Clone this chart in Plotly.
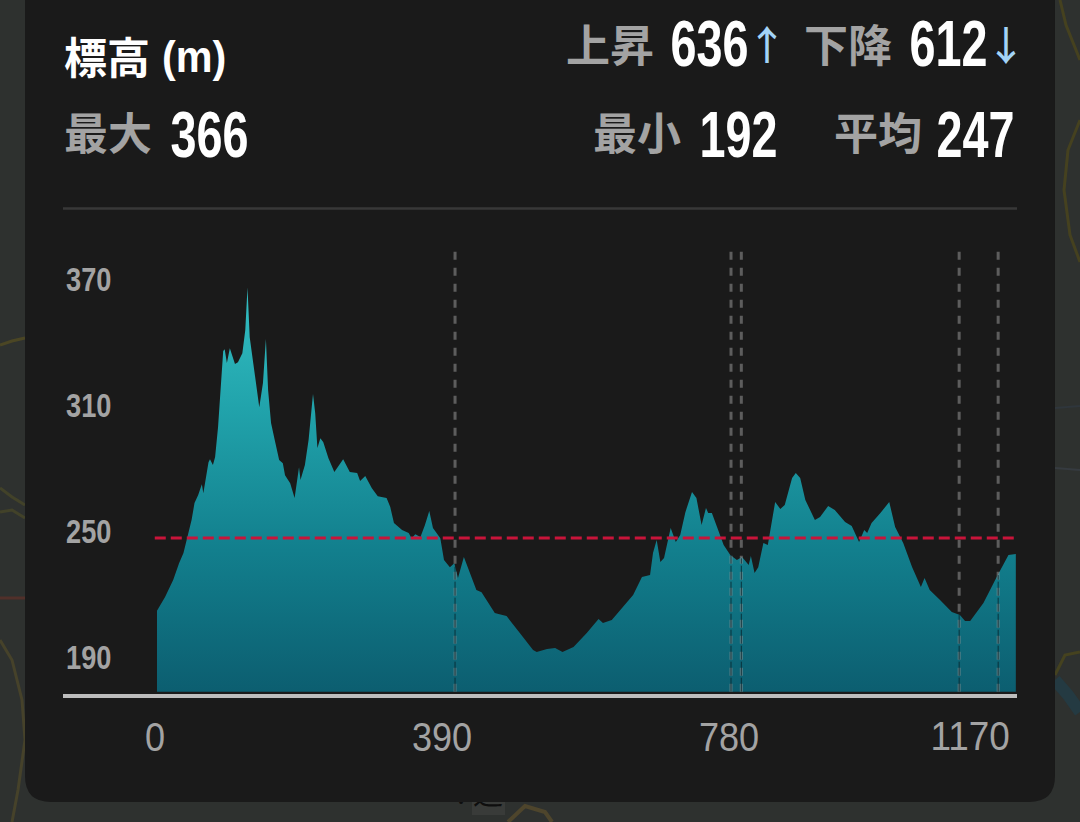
import plotly.graph_objects as go

# --- chart data -----------------------------------------------------------
dist = [0, 11, 22, 30, 36, 43, 47, 51, 56, 61, 63, 70, 72, 76, 79, 83, 87, 90, 92, 95, 99, 106, 110, 116, 120, 123,
        126, 133, 139, 144, 148, 151, 155, 160, 166, 171, 174, 181, 187, 193, 195, 201, 206, 212, 215, 218, 222, 226,
        233, 241, 253, 262, 272, 276, 283, 292, 300, 312, 317, 322, 333, 342, 346, 351, 358, 364, 370, 375, 385, 390,
        398, 404, 409, 417, 425, 434, 441, 459, 464, 475, 493, 511, 516, 530, 541, 551, 566, 584, 600, 606, 618, 636,
        647, 659, 670, 674, 679, 684, 689, 698, 705, 711, 718, 727, 733, 740, 746, 749, 754, 761, 770, 779, 788, 795,
        804, 807, 812, 817, 824, 830, 833, 840, 847, 853, 863, 868, 874, 881, 894, 901, 912, 921, 935, 944, 954, 961,
        965, 971, 983, 995, 1003, 1014, 1026, 1038, 1043, 1050, 1064, 1080, 1091, 1098, 1105, 1123, 1141, 1157, 1167]
elev = [212, 218.6, 226.7, 234.7, 239.5, 249, 255.2, 263.3, 267.1, 272.3, 268, 282.8, 284.2, 281.4, 285.2, 299.5,
        321.9, 335.7, 336.6, 330, 337.1, 329.5, 330.4, 334.7, 345.7, 366, 342.3, 323.3, 309, 320.5, 341.4, 317.1,
        301.4, 293.3, 283.8, 282.3, 276.6, 272.8, 265.7, 280.4, 274.3, 281.4, 293.3, 315.2, 306.1, 289.5, 294.2,
        292.3, 284.7, 278.1, 284.2, 278.1, 277.6, 273.8, 276.2, 270.4, 266.6, 265.7, 261.4, 253.8, 250.5, 249, 246.6,
        248.5, 247.1, 252.8, 259.5, 251.4, 246.6, 236.2, 232.8, 234.7, 227.6, 237.6, 230, 221.9, 220.9, 210.9, 210.5,
        209.5, 201.4, 193.3, 192.4, 193.8, 194.3, 192.4, 194.8, 201.4, 208.1, 206.2, 207.6, 215.2, 219.5, 228.1, 229,
        239.5, 245.7, 235.2, 237.1, 251.4, 244.8, 248.1, 259, 268.6, 265.7, 252.9, 261, 258.6, 258.6, 251.9, 243.3,
        238.6, 236.2, 237.6, 233.8, 238.1, 230, 232.8, 244.3, 243.3, 249, 263.8, 260.5, 262.4, 275.2, 277.6, 275.2,
        264.8, 255.2, 256.7, 261.9, 260, 254.3, 252.4, 244.8, 250.5, 249, 253.8, 258.6, 263.8, 251.9, 244.3, 232.9,
        223.3, 227.6, 221.9, 217.1, 211.4, 210, 207.1, 207.1, 215.7, 228.1, 238.6, 239]
base_elev = [173.5, 173.5]
mean_elev = [246.7, 246.7]
mean_span = [-3, 1168]
marker_dist = [405, 780, 794, 1090, 1143]
marker_elev = [233, 238.5, 237, 210, 229]
marker_top = 383
x_ticks = [0, 390, 780]
x_last_tick = "1170"
y_ticks = [190, 250, 310, 370]

title_text = "標高"
unit_text = "(m)"
stat_labels = ["上昇", "下降", "最大", "最小", "平均"]
stat_values = ["636", "612", "366", "192", "247"]
arrows = ["↑", "↓"]
map_text = ["•", "道"]
map_text_x = [461, 488]
map_text_y = [802, 796]
map_text_size = [15, 30]

# --- styles ---------------------------------------------------------------
W, H = 1080, 822
CJK = "Noto Sans CJK JP"
LATIN = "Liberation Sans"
GREY = "#a3a3a3"
PANEL = "#1a1a1a"
BLUE = "#a3d3f7"


def note(px, py, text, size, color, family, anchor="left", weight=None):
    return dict(xref="paper", yref="paper", x=px / W, y=1 - py / H, text=text, showarrow=False,
                xanchor=anchor, yanchor="middle", borderpad=0,
                font=dict(size=size, color=color, family=family, weight=weight))


def p(px, py):
    return f"{px / W:.5f},{1 - py / H:.5f}"


def curve(points, color, width):
    d = "M " + " L ".join(p(a, b) for a, b in points)
    return dict(type="path", xref="paper", yref="paper", path=d, line=dict(color=color, width=width), layer="below")


fig = go.Figure()
fig.add_trace(go.Scatter(x=[dist[0], dist[-1]], y=base_elev, mode="lines", line=dict(width=0),
                         hoverinfo="skip", showlegend=False))
fig.add_trace(go.Scatter(x=dist, y=elev, mode="lines", line=dict(width=0), fill="tonexty",
                         fillgradient=dict(type="vertical",
                                           colorscale=[[0, "#0c5e70"], [0.35, "#127f8d"], [0.7, "#21a3ab"],
                                                       [1, "#33bfc3"]]),
                         showlegend=False))
for d, e in zip(marker_dist, marker_elev):
    fig.add_trace(go.Scatter(x=[d, d], y=[base_elev[0], marker_top], mode="lines",
                             line=dict(color="rgba(150,150,150,0.55)", width=3, dash="8px,8px"),
                             hoverinfo="skip", showlegend=False))
    fig.add_trace(go.Scatter(x=[d, d], y=[base_elev[0], e], mode="lines",
                             line=dict(color="rgba(8,35,42,0.8)", width=1, dash="14px,2px"),
                             hoverinfo="skip", showlegend=False))
fig.add_trace(go.Scatter(x=mean_span, y=mean_elev, mode="lines",
                         line=dict(color="#c9143a", width=3, dash="11px,5px"),
                         hoverinfo="skip", showlegend=False))
# map label behind the panel, on a hidden page-sized pair of axes
fig.add_trace(go.Scatter(x=map_text_x, y=map_text_y, mode="text", text=map_text, xaxis="x2", yaxis="y2",
                         cliponaxis=False, textfont=dict(size=map_text_size, color="#0e0e0e", family=CJK),
                         hoverinfo="skip", showlegend=False))

panel_path = (f"M {p(25, -5)} L {p(1055, -5)} L {p(1055, 776)} Q {p(1055, 802)} {p(1029, 802)} "
              f"L {p(51, 802)} Q {p(25, 802)} {p(25, 776)} Z")
shapes = [
    # blurred map behind the panel
    curve([(0, 345), (12, 341), (25, 338)], "#4b4624", 3),
    curve([(0, 598), (25, 598)], "#51302a", 3),
    curve([(0, 488), (12, 497), (25, 505)], "#424229", 3),
    curve([(0, 512), (12, 510), (25, 518)], "#424229", 3),
    curve([(0, 640), (12, 660), (22, 700), (25, 740), (18, 790), (12, 822)], "#46422a", 3),
    curve([(1060, 0), (1066, 25), (1080, 60)], "#45411f", 3),
    curve([(1080, 120), (1068, 150), (1064, 190), (1070, 235), (1080, 262)], "#45411f", 3),
    curve([(1055, 408), (1080, 406)], "#2f363c", 2),
    curve([(1055, 468), (1080, 470)], "#363b40", 2),
    curve([(1055, 675), (1065, 655), (1080, 652)], "#45421f", 3),
    curve([(1055, 680), (1068, 695), (1080, 712)], "#243a42", 12),
    curve([(508, 822), (525, 806), (545, 812), (552, 822)], "#4e452c", 4),
    dict(type="rect", xref="paper", yref="paper", x0=472 / W, x1=505 / W, y0=1 - 815 / H, y1=1 - 800 / H,
         fillcolor="#393b39", line=dict(width=0), layer="below"),
    dict(type="path", xref="paper", yref="paper", path=panel_path, fillcolor=PANEL, line=dict(width=0), layer="below"),
    dict(type="line", xref="paper", yref="paper", x0=63 / W, x1=1017 / W, y0=1 - 208.5 / H, y1=1 - 208.5 / H,
         line=dict(color="#383838", width=2.5), layer="below"),
    # hides the part of the map label that lies behind the panel
    dict(type="rect", xref="paper", yref="paper", x0=440 / W, x1=520 / W, y0=1 - 802 / H, y1=1 - 775 / H,
         fillcolor=PANEL, line=dict(width=0), layer="above"),
]

annotations = [
    note(63, 55, title_text, 43, "#ffffff", CJK, weight=700),
    note(194, 56, unit_text, 44, "#ffffff", LATIN, anchor="center", weight=700),
    note(565, 43, stat_labels[0], 44, GREY, CJK, weight=700),
    note(709.5, 44, stat_values[0], 64, "#ffffff", LATIN, anchor="center", weight=700),
    note(767, 43, arrows[0], 40, BLUE, CJK, anchor="center", weight=500),
    note(803, 43, stat_labels[1], 44, GREY, CJK, weight=700),
    note(948, 44, stat_values[1], 64, "#ffffff", LATIN, anchor="center", weight=700),
    note(1006, 43, arrows[1], 40, BLUE, CJK, anchor="center", weight=500),
    note(63, 131, stat_labels[2], 44, GREY, CJK, weight=700),
    note(209, 135, stat_values[2], 64, "#ffffff", LATIN, anchor="center", weight=700),
    note(592, 131, stat_labels[3], 44, GREY, CJK, weight=700),
    note(738, 135, stat_values[3], 64, "#ffffff", LATIN, anchor="center", weight=700),
    note(833, 131, stat_labels[4], 44, GREY, CJK, weight=700),
    note(975, 135, stat_values[4], 64, "#ffffff", LATIN, anchor="center", weight=700),
    note(970, 736, x_last_tick, 41, GREY, LATIN, anchor="center"),
]

fig.update_layout(
    width=W, height=H, margin=dict(l=0, r=0, t=0, b=0, pad=0), autosize=False,
    paper_bgcolor="#2e312f", plot_bgcolor="rgba(0,0,0,0)", showlegend=False,
    shapes=shapes, annotations=annotations,
    xaxis=dict(domain=[63 / W, 1017 / W], range=[-127.7, 1168.6], showgrid=False, zeroline=False,
               showline=True, linecolor="#bdbdbd", linewidth=3.5, tickmode="array", tickvals=x_ticks,
               ticks="", ticklabelstandoff=4, ticklabelshift=-2,
               tickfont=dict(size=41, color=GREY, family=LATIN)),
    yaxis=dict(domain=[1 - 694.3 / H, 1 - 240 / H], range=[172.24, 388.6], showgrid=False, zeroline=False,
               showline=False, tickmode="array", tickvals=y_ticks, ticks="", ticklabelposition="inside",
               tickfont=dict(size=34, color=GREY, family=LATIN, weight=700)),
    xaxis2=dict(domain=[0, 1], range=[0, W], visible=False, anchor="y2"),
    yaxis2=dict(domain=[0, 1], range=[H, 0], visible=False, anchor="x2"),
)

# The reference's numerals are a condensed face, and no condensed face is installed:
# squeeze the real text with SVG textLength.
post = """
document.body.style.margin='0';document.documentElement.style.overflow='hidden';
(function(){
  function squeeze(t,f){
    if(t.getAttribute('data-sq'))return;
    var L=t.getComputedTextLength(); if(!L)return;
    t.setAttribute('data-sq','1');
    t.setAttribute('lengthAdjust','spacingAndGlyphs');
    t.setAttribute('textLength',L*f);
  }
  function run(){
    document.querySelectorAll('.annotation-text').forEach(function(t){
      var s=t.textContent;
      if(/^[0-9]{3}$/.test(s))squeeze(t,0.73);
      else if(s==='(m)')squeeze(t,0.94);
      else if(/^[0-9]{4}$/.test(s))squeeze(t,0.9);
    });
    document.querySelectorAll('.xtick text').forEach(function(t){squeeze(t,0.88);});
    document.querySelectorAll('.ytick text').forEach(function(t){squeeze(t,0.8);});
  }
  run();setTimeout(run,0);setTimeout(run,100);setTimeout(run,400);
})();
"""
fig.write_html("out.html", config=dict(displayModeBar=False), post_script=post)
